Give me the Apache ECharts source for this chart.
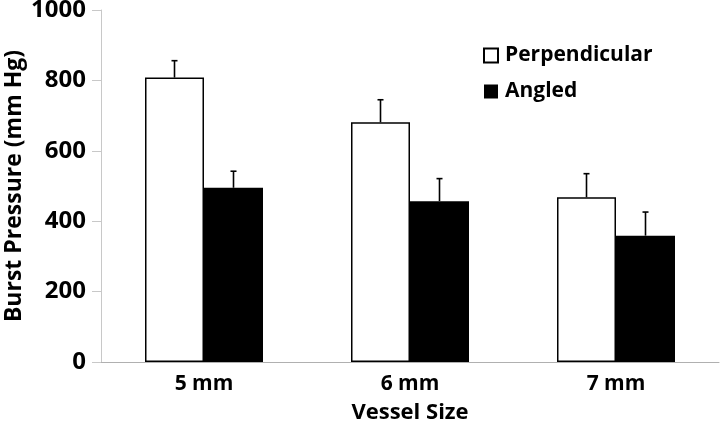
<!DOCTYPE html>
<html><head><meta charset="utf-8">
<script src="https://cdn.jsdelivr.net/npm/echarts@6/dist/echarts.min.js"></script>
<style>html,body{margin:0;padding:0;background:#fff}#c{width:720px;height:425px}</style>
</head><body><div id="c"></div>
<script>
const categories = ['5 mm', '6 mm', '7 mm'];
const perpendicular = [808, 681, 468];
const perpendicularErr = [856, 745, 535];
const angled = [495, 457, 359];
const angledErr = [542, 521, 426];
const yTicks = [0, 200, 400, 600, 800, 1000];

const FONT = '"Open Sans", "DejaVu Sans", sans-serif';
const chart = echarts.init(document.getElementById('c'), null, {renderer: 'canvas'});
const BW = 59;

function errSeries(tops, vals, offsetSign) {
  return {
    type: 'custom',
    z: 5,
    silent: true,
    data: tops.map((t, i) => [i, vals[i], t]),
    renderItem: function (params, api) {
      const i = api.value(0);
      const base = api.coord([i, api.value(1)]);
      const top = api.coord([i, api.value(2)]);
      const x = base[0] + offsetSign * BW / 2;
      const st = {stroke: '#000', lineWidth: 1.6};
      return {
        type: 'group',
        children: [
          {type: 'line', shape: {x1: x, y1: base[1], x2: x, y2: top[1]}, style: st},
          {type: 'line', shape: {x1: x - 3, y1: top[1], x2: x + 3, y2: top[1]}, style: st}
        ]
      };
    }
  };
}

chart.setOption({
  animation: false,
  backgroundColor: '#fff',
  grid: {left: 101, right: 1, top: 10, bottom: 63, outerBoundsMode: 'none', containLabel: false},
  legend: {
    orient: 'vertical',
    left: 478, top: 40,
    itemWidth: 14, itemHeight: 14, itemGap: 15,
    icon: 'rect',
    textStyle: {fontFamily: FONT, fontWeight: 'bold', fontSize: 21, color: '#000', padding: [0, 0, 0, 2]},
    data: ['Perpendicular', 'Angled']
  },
  xAxis: {
    type: 'category',
    data: categories,
    name: 'Vessel Size',
    nameLocation: 'middle',
    nameGap: 40,
    nameMoveOverlap: false,
    nameTextStyle: {fontFamily: FONT, fontWeight: 'bold', fontSize: 22, color: '#000'},
    axisLine: {lineStyle: {color: '#b0b0b0', width: 1}},
    axisTick: {show: false},
    axisLabel: {fontFamily: FONT, fontWeight: 'bold', fontSize: 21, color: '#000', margin: 12}
  },
  yAxis: {
    type: 'value',
    min: 0, max: 1000, interval: 200,
    name: 'Burst Pressure (mm Hg)',
    nameLocation: 'middle',
    nameGap: 75,
    nameMoveOverlap: false,
    nameTextStyle: {fontFamily: FONT, fontWeight: 'bold', fontSize: 23, color: '#000'},
    axisLine: {show: true, lineStyle: {color: '#c8c8c8', width: 1}},
    axisTick: {show: true, length: 9, lineStyle: {color: '#c8c8c8'}},
    splitLine: {show: false},
    axisLabel: {fontFamily: FONT, fontWeight: 'bold', fontSize: 24, color: '#000', margin: 15,
      formatter: v => yTicks.includes(v) ? String(v) : ''}
  },
  series: [
    {name: 'Perpendicular', type: 'bar', data: perpendicular, barWidth: BW, barGap: '0%',
     itemStyle: {color: '#fff', borderColor: '#000', borderWidth: 1.5}},
    {name: 'Angled', type: 'bar', data: angled, barWidth: BW, barGap: '0%',
     itemStyle: {color: '#000', borderColor: '#000', borderWidth: 0}},
    errSeries(perpendicularErr, perpendicular, -1),
    errSeries(angledErr, angled, 1)
  ]
});
</script></body></html>
